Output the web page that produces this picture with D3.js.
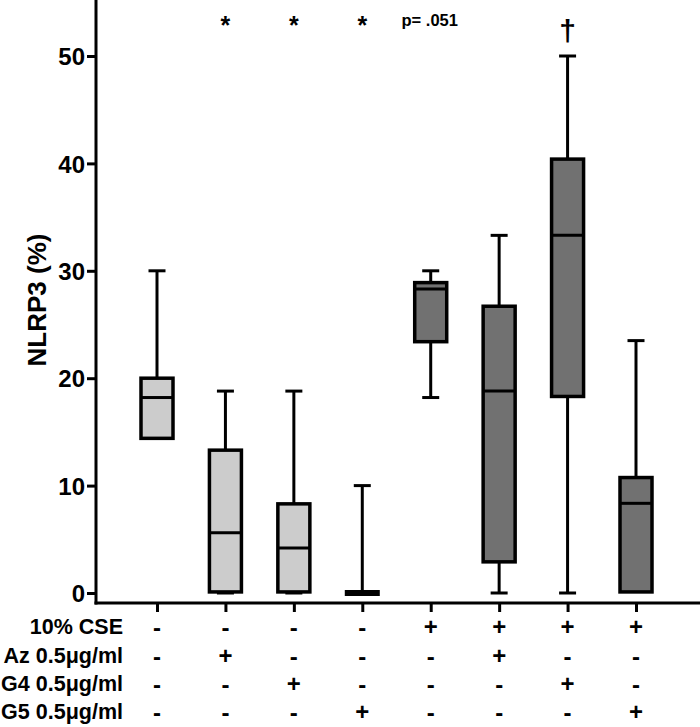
<!DOCTYPE html>
<html><head><meta charset="utf-8">
<script src="https://cdn.jsdelivr.net/npm/d3@7"></script>
<style>body{margin:0;background:#fff}svg{display:block;font-family:"Liberation Sans",Arial,sans-serif;font-weight:bold}</style>
</head><body><svg id="c" width="700" height="727"></svg>
<script>
const groups = ["g1","g2","g3","g4","g5","g6","g7","g8"];
const mins    = [14.4, 0, 0, 0, 18.2, 0, 0, 0.1];
const q1s     = [14.4, 0.1, 0.1, 0, 23.4, 2.9, 18.3, 0.1];
const medians = [18.2, 5.6, 4.2, 0, 28.3, 18.8, 33.3, 8.35];
const q3s     = [20.0, 13.3, 8.3, 0, 28.9, 26.7, 40.4, 10.75];
const maxs    = [30.0, 18.8, 18.8, 10.0, 30.0, 33.3, 50.0, 23.5];
const fills   = ["light","light","light","light","dark","dark","dark","dark"];
const yTicks  = [0,10,20,30,40,50];
const annotations = ["", "*", "*", "*", "p= .051", "", "†", ""];
const rowLabels = ["10% CSE","Az 0.5\u03bcg/ml","G4 0.5\u03bcg/ml","G5 0.5\u03bcg/ml"];
const rowSigns = [
  ["-","-","-","-","+","+","+","+"],
  ["-","+","-","-","-","+","-","-"],
  ["-","-","+","-","-","-","+","-"],
  ["-","-","-","+","-","-","-","+"]
];

const svg = d3.select("#c");
const x = d3.scalePoint().domain(groups).range([157, 636]);
const y = d3.scaleLinear().domain([0, 50]).range([593, 56]);
const axisX = 96, axisY = 603;
const colors = {light:"#cccccc", dark:"#717171"};

// y axis
const yAxis = svg.append("g").attr("transform",`translate(${axisX},0)`)
  .call(d3.axisLeft(y).tickValues(yTicks).tickSize(9).tickPadding(2));
yAxis.select(".domain").remove();
yAxis.selectAll(".tick line").attr("stroke","#000").attr("stroke-width",3);
yAxis.selectAll(".tick text").attr("font-size",24).attr("font-weight","bold").attr("fill","#000").attr("dy","0.36em");
svg.append("line").attr("x1",axisX).attr("x2",axisX).attr("y1",0).attr("y2",axisY+1.5)
  .attr("stroke","#000").attr("stroke-width",3);

// x axis
const xAxis = svg.append("g").attr("transform",`translate(0,${axisY})`)
  .call(d3.axisBottom(x).tickSize(9).tickFormat(""));
xAxis.select(".domain").remove();
xAxis.selectAll(".tick line").attr("stroke","#000").attr("stroke-width",3);
svg.append("line").attr("x1",axisX-1.5).attr("x2",700).attr("y1",axisY).attr("y2",axisY)
  .attr("stroke","#000").attr("stroke-width",3);

// y label
svg.append("text").attr("transform","translate(46,300) rotate(-90)")
  .attr("text-anchor","middle").attr("font-size",26).text("NLRP3 (%)");

// boxes
const bw = 32, cap = 17;
groups.forEach((g,i)=>{
  const cx = x(g);
  const gg = svg.append("g");
  if (maxs[i] > q3s[i]) {
    gg.append("line").attr("x1",cx).attr("x2",cx).attr("y1",y(maxs[i])).attr("y2",y(q3s[i])).attr("stroke","#000").attr("stroke-width",3);
    gg.append("line").attr("x1",cx-cap/2).attr("x2",cx+cap/2).attr("y1",y(maxs[i])).attr("y2",y(maxs[i])).attr("stroke","#000").attr("stroke-width",3);
  }
  if (mins[i] < q1s[i]) {
    gg.append("line").attr("x1",cx).attr("x2",cx).attr("y1",y(q1s[i])).attr("y2",y(mins[i])).attr("stroke","#000").attr("stroke-width",3);
    gg.append("line").attr("x1",cx-cap/2).attr("x2",cx+cap/2).attr("y1",y(mins[i])).attr("y2",y(mins[i])).attr("stroke","#000").attr("stroke-width",3);
  }
  const top = y(q3s[i]), bot = y(q1s[i]);
  if (bot - top < 1) {
    gg.append("rect").attr("x",cx-bw/2-1.5).attr("y",top-3).attr("width",bw+3).attr("height",6).attr("fill","#000");
  } else {
    gg.append("rect").attr("x",cx-bw/2).attr("y",top).attr("width",bw).attr("height",bot-top)
      .attr("fill",colors[fills[i]]).attr("stroke","#000").attr("stroke-width",3.5);
    gg.append("line").attr("x1",cx-bw/2).attr("x2",cx+bw/2).attr("y1",y(medians[i])).attr("y2",y(medians[i])).attr("stroke","#000").attr("stroke-width",3);
  }
  // annotation
  const a = annotations[i];
  if (a === "*") {
    svg.append("text").attr("x",x(g)).attr("y",34).attr("text-anchor","middle").attr("font-size",25).text(a);
  } else if (a === "†") {
    svg.append("text").attr("x",x(g)).attr("y",41).attr("text-anchor","middle").attr("font-size",30).text(a);
  } else if (a) {
    svg.append("text").attr("x",x(g)-1).attr("y",26).attr("text-anchor","middle").attr("font-size",16.5).text(a);
  }
});

// table
const rowY = [634, 663, 691, 719];
rowLabels.forEach((lab,r)=>{
  svg.append("text").attr("x",123).attr("y",rowY[r]).attr("text-anchor","end").attr("font-size",21.5).text(lab);
  rowSigns[r].forEach((s,i)=>{
    svg.append("text").attr("x",x(groups[i])).attr("y",rowY[r] + (s==="+"?1:2)).attr("text-anchor","middle")
      .attr("font-size",24).text(s);
  });
});
</script></body></html>
